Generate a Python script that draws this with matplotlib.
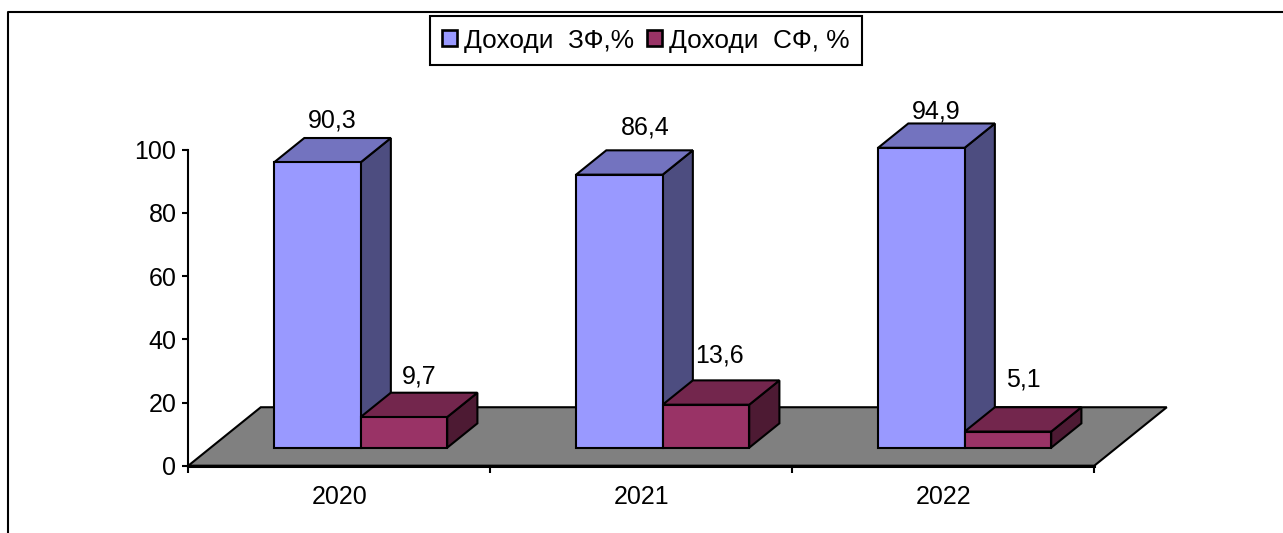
import matplotlib
matplotlib.use('Agg')
import matplotlib.pyplot as plt
from matplotlib.patches import Polygon, Patch

plt.rcParams['font.family'] = ['Liberation Sans', 'DejaVu Sans']

# Chart data
years = ['2020', '2021', '2022']
zf_values = [90.3, 86.4, 94.9]
sf_values = [9.7, 13.6, 5.1]
zf_labels = ['90,3', '86,4', '94,9']
sf_labels = ['9,7', '13,6', '5,1']
y_ticks = [0, 20, 40, 60, 80, 100]

W, H = 1283, 533
LW = 1.5
FS = 18

# 3D look, in data units
bar_w = 0.2866
depth_x = 0.1
depth_y = 7.7
floor_x = 0.24
floor_y = 18.5
base_y = 5.7
shift_x = 0.0707

zf_colors = ('#9999FF', '#7373BF', '#4D4D80')
sf_colors = ('#993366', '#73264D', '#4D1A33')

# label offsets from the back of the bar top, pixels
zf_offs = [(0, 18), (11, 23), (0, 12)]
sf_offs = [(0, 16), (-2, 25), (0, 28)]


def draw_box(ax, x, h, colors, z):
    x2 = x + bar_w
    top = base_y + h
    ax.add_patch(Polygon([(x2, base_y), (x2 + depth_x, base_y + depth_y),
                          (x2 + depth_x, top + depth_y), (x2, top)],
                         fc=colors[2], ec='black', lw=LW, clip_on=False, zorder=z))
    ax.add_patch(Polygon([(x, top), (x + depth_x, top + depth_y),
                          (x2 + depth_x, top + depth_y), (x2, top)],
                         fc=colors[1], ec='black', lw=LW, clip_on=False, zorder=z))
    ax.add_patch(Polygon([(x, base_y), (x2, base_y), (x2, top), (x, top)],
                         fc=colors[0], ec='black', lw=LW, clip_on=False, zorder=z))


fig = plt.figure(figsize=(W / 100, H / 100), dpi=100)
ax = fig.add_axes([188.3 / W, 1 - 465.7 / H, 906 / W, 316 / H])
ax.set_xlim(0, 3)
ax.set_ylim(0, 100)

# floor
ax.add_patch(Polygon([(0, 0), (3, 0), (3 + floor_x, floor_y), (floor_x, floor_y)],
                     fc='#808080', ec='black', lw=LW, clip_on=False, zorder=1))

for i in range(3):
    left = i + 0.5 + shift_x - bar_w
    # blue first, the red top lies over the blue side
    draw_box(ax, left, zf_values[i], zf_colors, 3)
    draw_box(ax, left + bar_w, sf_values[i], sf_colors, 4)
    ax.annotate(zf_labels[i], (left + bar_w / 2 + depth_x / 2, base_y + zf_values[i] + depth_y),
                xytext=(zf_offs[i][0] * 0.72, zf_offs[i][1] * 0.72), textcoords='offset points',
                ha='center', va='center', fontsize=FS, zorder=5, annotation_clip=False)
    ax.annotate(sf_labels[i], (left + 1.5 * bar_w + depth_x / 2, base_y + sf_values[i] + depth_y),
                xytext=(sf_offs[i][0] * 0.72, sf_offs[i][1] * 0.72), textcoords='offset points',
                ha='center', va='center', fontsize=FS, zorder=5, annotation_clip=False)

# axes
for s in ['top', 'right']:
    ax.spines[s].set_visible(False)
ax.spines['left'].set_linewidth(LW)
ax.spines['bottom'].set_linewidth(2.2)
ax.spines['bottom'].set_zorder(6)
ax.set_yticks(y_ticks)
ax.set_xticks([0, 1, 2, 3])
ax.set_xticks([0.5, 1.5, 2.5], labels=years, minor=True)
ax.set_xticklabels([])
ax.tick_params(axis='y', length=4, width=LW, labelsize=FS, pad=4.5)
ax.tick_params(axis='x', which='major', length=5, width=LW)
ax.tick_params(axis='x', which='minor', length=0, labelsize=FS, pad=14)

# legend
leg = fig.legend(handles=[Patch(fc=zf_colors[0], ec='black', lw=LW + 0.4, label='Доходи  ЗФ,%'),
                          Patch(fc=sf_colors[0], ec='black', lw=LW + 0.4, label='Доходи  СФ, %')],
                 loc='center', bbox_to_anchor=(646 / W, 1 - 40.7 / H), ncol=2, fontsize=18.9,
                 fancybox=False, framealpha=1, edgecolor='black', borderpad=0.48,
                 handlelength=0.56, handleheight=0.56, handletextpad=0.28, columnspacing=0.5,
                 borderaxespad=0)
leg.get_frame().set_linewidth(LW)

# outer frame, open at the bottom and on the right
frame_x = [7.5 / W, 7.5 / W, 1]
frame_y = [0, 1 - 11.5 / H, 1 - 11.5 / H]
fig.add_artist(plt.Line2D(frame_x, frame_y, color='black', lw=LW))

fig.savefig('out.png', dpi=100)
